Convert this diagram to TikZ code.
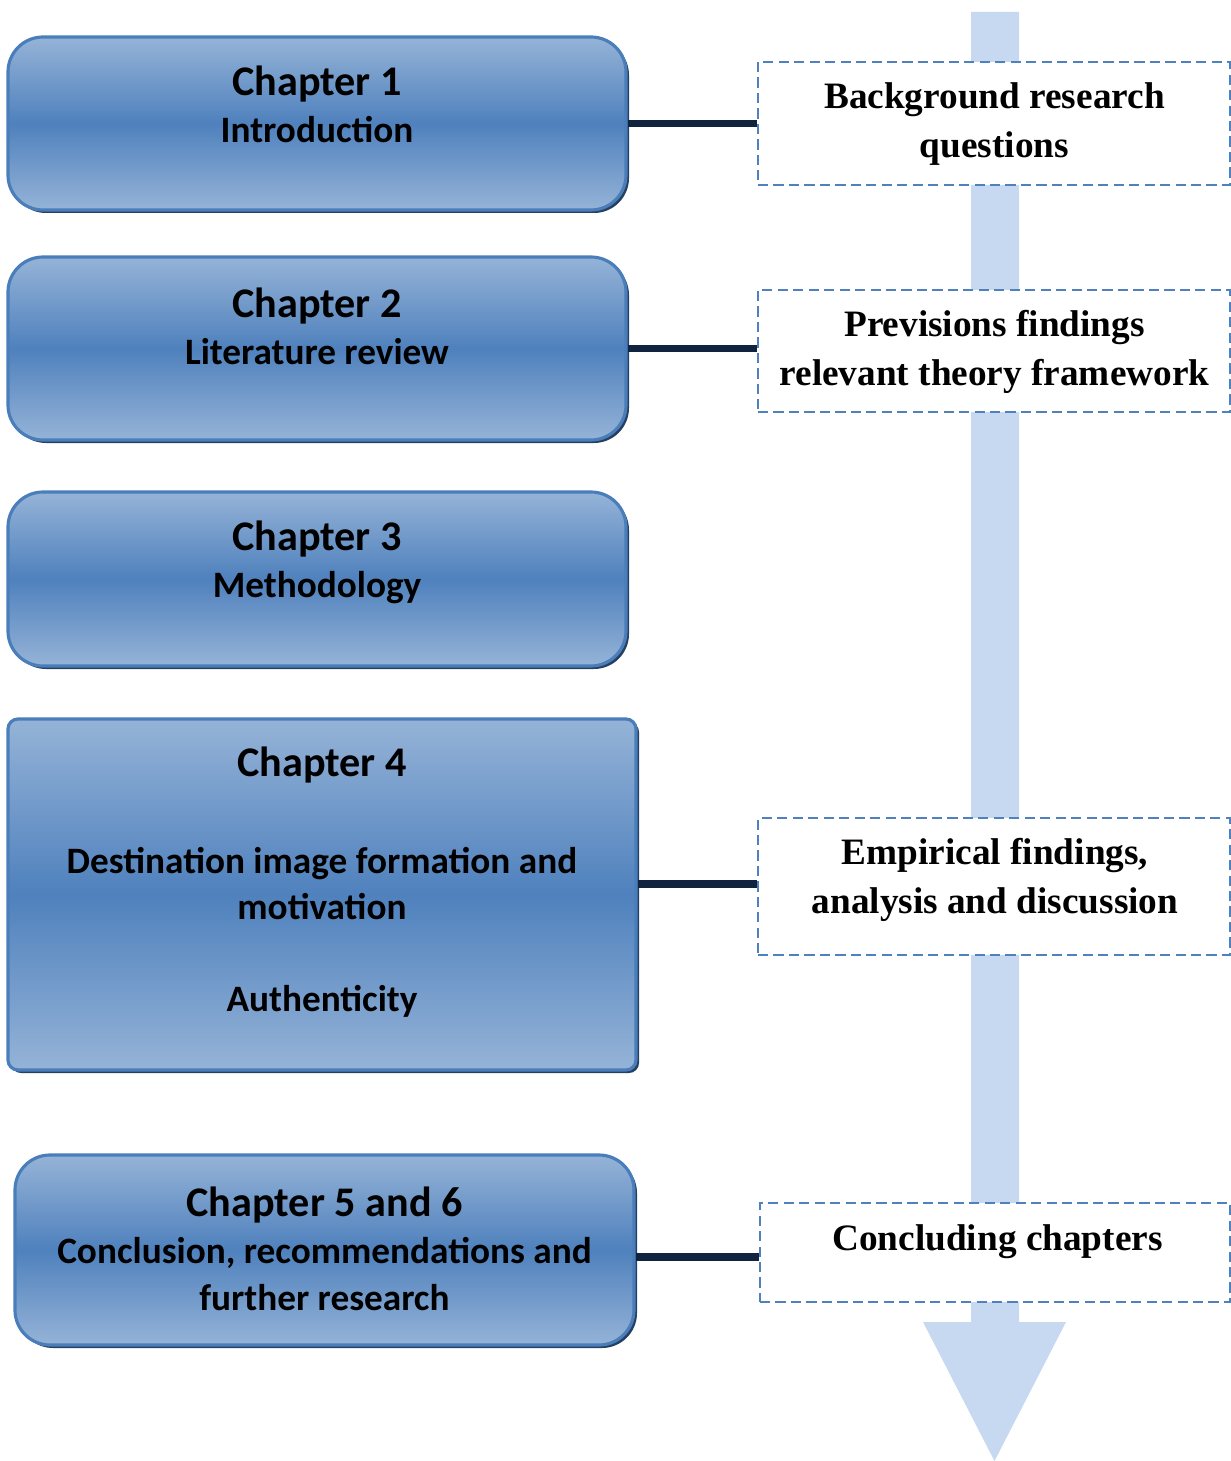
\documentclass[tikz,border=0pt]{standalone}
\usepackage{fontspec}
\usepackage{tikz}
\usetikzlibrary{shadows}
\newfontfamily\calibrifont{Carlito}
\newfontfamily\tnrfont{Liberation Serif}
\definecolor{chaplight}{HTML}{95B3D7}
\definecolor{chapmid}{HTML}{4F81BD}
\definecolor{chapedge}{HTML}{4A7EBB}
\definecolor{chapshadow}{HTML}{254061}
\definecolor{linkblue}{HTML}{10243F}
\definecolor{flowblue}{HTML}{C6D9F1}
\tikzset{
	chapbox/.style={draw=chapedge, line width=0.9pt, rounded corners=0.35cm,
		top color=chaplight, bottom color=chaplight, middle color=chapmid,
		general shadow={shadow xshift=0.03cm, shadow yshift=-0.03cm, fill=chapshadow},
		inner sep=0pt},
	chaptext/.style={align=center, inner sep=0pt, font=\calibrifont\bfseries},
	stagebox/.style={draw=chapmid, dash pattern=on 2.9pt off 1.5pt, line width=0.8pt,
		fill=white, inner sep=0pt},
	stagetext/.style={align=center, inner sep=0pt,
		font=\tnrfont\bfseries\fontsize{10.6}{14}\selectfont},
	link/.style={draw=linkblue, line width=2.2pt}
}
\newcommand{\chaptitle}[1]{{\fontsize{12}{14}\selectfont #1}}
\begin{document}
\begin{tikzpicture}
	\useasboundingbox (0,0) rectangle (12.31,-14.61);
	% the flow arrow behind the stages
	\fill [flowblue] (9.71,-0.12) -- (10.19,-0.12) -- (10.19,-13.22) -- (10.66,-13.22)
		-- (9.945,-14.61) -- (9.23,-13.22) -- (9.71,-13.22) -- cycle;
	
	% chapters
	\node [chapbox, minimum width=6.18cm, minimum height=1.73cm] (c1) at (3.17,-1.235) {};
	\node [chapbox, minimum width=6.18cm, minimum height=1.83cm] (c2) at (3.17,-3.485) {};
	\node [chapbox, minimum width=6.18cm, minimum height=1.74cm] (c3) at (3.17,-5.79) {};
	\node [chapbox, rounded corners=0.1cm, minimum width=6.28cm, minimum height=3.51cm] (c4) at (3.22,-8.945) {};
	\node [chapbox, minimum width=6.19cm, minimum height=1.90cm] (c5) at (3.245,-12.50) {};
	
	\fontsize{10.6}{13.3}\selectfont
	\node [chaptext] (t1) at (3.17,-1.04) {\chaptitle{Chapter 1}\\Introduction};
	\node [chaptext] (t2) at (3.17,-3.26) {\chaptitle{Chapter 2}\\Literature review};
	\node [chaptext] (t3) at (3.17,-5.62) {\chaptitle{Chapter 3}\\Methodology};
	\node [chaptext] (t4) at (3.22,-8.82) {\chaptitle{Chapter 4}\\[0.5cm]Destination image formation and\\motivation\\[0.45cm]Authenticity};
	\node [chaptext] (t5) at (3.245,-12.49) {\chaptitle{Chapter 5 and 6}\\Conclusion, recommendations and\\further research};
	
	% stages
	\node [stagebox, minimum width=4.72cm, minimum height=1.23cm] (r1) at (9.94,-1.235) {};
	\node [stagebox, minimum width=4.72cm, minimum height=1.22cm] (r2) at (9.94,-3.51) {};
	\node [stagebox, minimum width=4.72cm, minimum height=1.37cm] (r3) at (9.94,-8.865) {};
	\node [stagebox, minimum width=4.70cm, minimum height=0.99cm] (r4) at (9.95,-12.525) {};
	
	\node [stagetext] (s1) at (9.945,-1.24) {Background research\\questions};
	\node [stagetext] (s2) at (9.945,-3.52) {Previsions findings\\relevant theory framework};
	\node [stagetext] (s3) at (9.95,-8.80) {Empirical findings,\\analysis and discussion};
	\node [stagetext] (s4) at (9.975,-12.42) {Concluding chapters};
	
	% links
	\draw [link] (c1.east) -- (c1.east -| r1.west);
	\draw [link] (c2.east) -- (c2.east -| r2.west);
	\draw [link] ([yshift=0.105cm]c4.east) -- ([yshift=0.105cm]c4.east -| r3.west);
	\draw [link] ([yshift=-0.07cm]c5.east) -- ([yshift=-0.07cm]c5.east -| r4.west);
\end{tikzpicture}
\end{document}
